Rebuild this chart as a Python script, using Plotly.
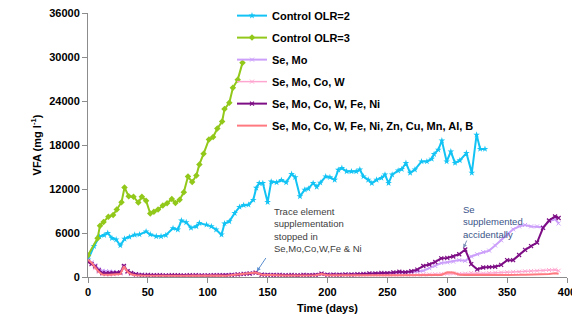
import plotly.graph_objects as go

# ---------------- data ----------------
green_days = [0, 8, 10, 13, 17, 21, 24, 28, 30.5, 34, 38, 42, 45, 48.5, 52, 55, 58.5, 62.5, 66, 70,
              73, 76.5, 80, 83.5, 87, 90.5, 93, 96.5, 101, 104.5, 108, 112, 114, 118, 121, 125, 129]
green_vals = [2950, 5300, 7000, 7500, 8200, 8450, 9200, 10200, 12200, 11000, 10950, 10150, 10950, 10400,
              8650, 8900, 9200, 9750, 10050, 10650, 10100, 10550, 11550, 13700, 12950, 13850, 15350,
              16800, 18750, 19100, 20250, 21200, 22900, 23750, 25800, 26900, 29200]

cyan_days = [0, 5, 9.5, 13.5, 16.5, 20, 23.5, 27, 30.5, 34.5, 39, 43, 48.5, 52, 57, 61, 65, 71, 75, 78,
             82, 86, 90.5, 93, 99, 103, 107, 111.5, 114, 118, 122.5, 126.5, 130, 134, 138, 140.5, 143,
             146, 150, 153, 157.5, 161.5, 165.5, 170, 173, 177, 181, 184, 188, 191, 194, 198.5, 202,
             206, 209, 212, 216, 220, 224, 227, 230, 234, 237, 241, 245, 248, 251, 254, 259, 262,
             265.5, 269, 273, 278.5, 283, 287, 289, 292.5, 295.5, 299.5, 303, 306.5, 310.5, 316,
             320.5, 324.5, 327.5, 331.5]
cyan_vals = [2360, 4200, 5500, 5700, 6000, 5300, 5100, 4300, 5200, 5450, 5750, 5800, 6200, 5800, 5550,
             5550, 5700, 6650, 6450, 7700, 7450, 6700, 6900, 7350, 7130, 6900, 6450, 5770, 7300, 7580,
             8700, 9550, 9800, 9850, 10500, 12150, 12800, 12800, 10200, 13000, 12900, 13200, 12900,
             14050, 13600, 11000, 11900, 12050, 12800, 12300, 12850, 13700, 13600, 13250, 14600,
             14850, 14400, 14400, 14400, 14650, 13700, 13250, 12800, 13250, 13500, 13950, 12800,
             13950, 14500, 14700, 15550, 14200, 14650, 15750, 15750, 16100, 16750, 17350, 18600,
             15750, 17100, 15550, 15900, 16900, 14200, 19400, 17450, 17450]

low_days = [0, 3, 6, 9, 12, 15, 18, 21, 24, 27, 30, 33, 36,
            40, 45, 50, 55, 60, 65, 70, 75, 80, 85,
            90, 95, 100, 105, 110, 115, 120, 125, 130, 135,
            140, 145, 150, 155, 160, 165, 170, 175, 180, 185,
            190, 195, 200, 205, 210, 215, 220, 225, 230, 235,
            240, 245, 250, 255, 260, 265, 270, 275, 280, 285,
            290, 295, 300, 305, 310, 315, 320, 325, 330, 335,
            340, 345, 350, 355, 360, 365, 370, 375, 380, 385,
            390, 393]

se_mo = [2300, 2000, 1600, 1100, 850, 800, 750, 700, 650, 600, 1300, 750, 500,
         380, 320, 300, 280, 300, 270, 290, 260, 250, 280,
         290, 260, 250, 280, 300, 270, 320, 380, 430, 480,
         560, 350, 320, 290, 310, 270, 290, 260, 300, 280,
         310, 420, 330, 340, 320, 350, 330, 360, 380, 400,
         420, 450, 460, 500, 550, 600, 650, 750, 850, 1200,
         1500, 1900, 2000, 2100, 2300, 2200, 2800, 3100, 3400, 3600,
         4300, 5000, 5800, 6500, 6900, 7100, 6900, 6900, 6800, 7600,
         7900, 7300]

se_mo_co_w = [2000, 1700, 1200, 700, 400, 330, 330, 370, 420, 470, 1350, 650, 400,
              260, 220, 200, 190, 210, 180, 200, 190, 180, 200,
              210, 190, 180, 200, 210, 190, 230, 280, 350, 420,
              520, 280, 250, 230, 240, 210, 230, 210, 240, 220,
              250, 380, 260, 250, 240, 260, 250, 270, 260, 280,
              270, 290, 280, 300, 290, 310, 300, 320, 330, 350,
              380, 420, 450, 500, 420, 450, 550, 500, 480, 550,
              600, 620, 650, 700, 720, 780, 820, 850, 880, 950,
              1000, 850]

se_mo_co_w_fe_ni = [2100, 1800, 1450, 900, 550, 500, 520, 540, 560, 620, 1500, 780, 550,
                    380, 300, 270, 250, 260, 230, 260, 240, 220, 250,
                    260, 230, 220, 250, 260, 240, 300, 350, 420, 480,
                    600, 330, 300, 270, 290, 250, 270, 240, 290, 260,
                    300, 450, 320, 330, 310, 360, 340, 390, 430, 500,
                    480, 560, 530, 620, 720, 660, 780, 1000, 1500, 1700,
                    2050, 2550, 2600, 2800, 3100, 3750, 1750, 1050, 1300, 1350,
                    1400, 1650, 2300, 2300, 3000, 3700, 4200, 4700, 6700, 7700,
                    8250, 8050]

se_all = [2350, 1950, 1300, 700, 330, 280, 300, 330, 360, 400, 1450, 700, 380,
          250, 210, 190, 180, 200, 170, 190, 180, 170, 190,
          200, 180, 170, 190, 200, 180, 250, 320, 400, 480,
          620, 300, 250, 220, 230, 200, 220, 200, 230, 210,
          240, 420, 250, 230, 220, 240, 220, 230, 220, 240,
          220, 240, 230, 250, 240, 250, 240, 260, 250, 270,
          260, 280, 650, 600, 320, 280, 270, 260, 280, 270,
          280, 270, 290, 300, 290, 320, 340, 360, 380, 420,
          520, 450]

x_ticks = [0, 50, 100, 150, 200, 250, 300, 350, 400]
y_ticks = [0, 6000, 12000, 18000, 24000, 30000, 36000]
y_tick_labels = ["0", "6000", "12000", "18000", "24000", "30000", "36000"]

# ---------------- figure ----------------
FONT = "Arial, Liberation Sans, sans-serif"
ANN_FONT = "Liberation Sans, Arial, sans-serif"
fig = go.Figure()

fig.add_trace(go.Scatter(x=cyan_days, y=cyan_vals, name="Control OLR=2", mode="lines+markers",
                         legendgroup="a",
                         line=dict(color="#12C3F4", width=2),
                         marker=dict(symbol="star", size=5, color="#12C3F4")))
fig.add_trace(go.Scatter(x=green_days, y=green_vals, name="Control OLR=3", mode="lines+markers",
                         legendgroup="b",
                         line=dict(color="#92C81A", width=2),
                         marker=dict(symbol="diamond", size=5, color="#92C81A")))
fig.add_trace(go.Scatter(x=low_days, y=se_mo, name="Se, Mo", mode="lines+markers",
                         legendgroup="c",
                         line=dict(color="#CCA0FA", width=2),
                         marker=dict(symbol="x-thin", size=4, line=dict(color="#CCA0FA", width=1))))
fig.add_trace(go.Scatter(x=low_days, y=se_mo_co_w, name="Se, Mo, Co, W", mode="lines+markers",
                         legendgroup="d",
                         line=dict(color="#FFA6D0", width=1.5),
                         marker=dict(symbol="x-thin", size=4, line=dict(color="#FFA6D0", width=1))))
fig.add_trace(go.Scatter(x=low_days, y=se_mo_co_w_fe_ni, name="Se, Mo, Co, W, Fe, Ni", mode="lines+markers",
                         legendgroup="e",
                         line=dict(color="#7E0E85", width=2),
                         marker=dict(symbol="x-thin", size=4, line=dict(color="#7E0E85", width=1.2))))
fig.add_trace(go.Scatter(x=low_days, y=se_all, name="Se, Mo, Co, W, Fe, Ni, Zn, Cu, Mn, Al, B", mode="lines",
                         legendgroup="f",
                         line=dict(color="#FF7A80", width=2)))

# annotations
fig.add_annotation(x=153.5, y=9950, xanchor="left", yanchor="top", align="left", showarrow=False,
                   text="Trace element<br>supplementation<br>stopped in<br>Se,Mo,Co,W,Fe &amp; Ni",
                   font=dict(family=ANN_FONT, size=9.5, color="#404040"))
fig.add_annotation(x=141, y=750, ax=10, ay=-15, text="", showarrow=True, arrowhead=2,
                   arrowsize=0.8, arrowwidth=1, arrowcolor="#5B8FD0")
fig.add_annotation(x=311.5, y=10250, xanchor="left", yanchor="top", align="left", showarrow=False,
                   text="Se<br>supplemented<br>accidentally",
                   font=dict(family=ANN_FONT, size=9.5, color="#3A5488"))
fig.add_annotation(x=313.5, y=3950, ax=4, ay=-9, text="", showarrow=True, arrowhead=2,
                   arrowsize=0.8, arrowwidth=1, arrowcolor="#7A90B8")

axis_common = dict(showline=True, linecolor="#8C8C8C", linewidth=1, ticks="outside",
                   tickcolor="#8C8C8C", ticklen=5, showgrid=False, zeroline=False,
                   automargin=True, ticklabeloverflow="allow",
                   tickfont=dict(family=FONT, size=11, color="#000000", weight="bold"))

fig.update_layout(
    width=580, height=321,
    margin=dict(l=80, r=21, t=5, b=52, autoexpand=False),
    paper_bgcolor="white", plot_bgcolor="white",
    font=dict(family=FONT, size=11, color="#000000"),
    xaxis=dict(range=[0, 400], tickvals=x_ticks,
               title=dict(text="Time (days)", standoff=7,
                          font=dict(family=FONT, size=11, color="#000000", weight="bold")),
               **axis_common),
    yaxis=dict(range=[0, 36000], tickvals=y_ticks, ticktext=y_tick_labels,
               title=dict(text="VFA (mg l<sup>-1</sup>)", standoff=5,
                          font=dict(family=FONT, size=11, color="#000000", weight="bold")),
               **axis_common),
    legend=dict(x=0.3006, y=1.045, xanchor="left", yanchor="top", bgcolor="rgba(0,0,0,0)",
                font=dict(family=FONT, size=11, color="#000000", weight="bold"),
                tracegroupgap=3),
    showlegend=True,
)

fig.write_html("out.html")
